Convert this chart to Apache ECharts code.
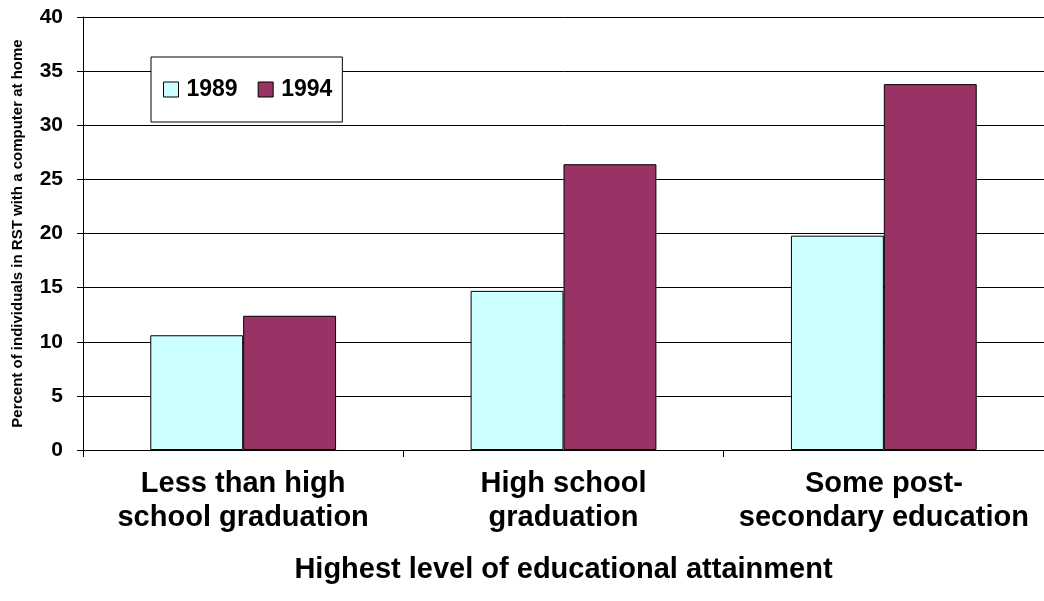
<!DOCTYPE html>
<html>
<head>
<meta charset="utf-8">
<script src="https://cdn.jsdelivr.net/npm/echarts@6/dist/echarts.min.js"></script>
<style>
html,body{margin:0;padding:0;background:#fff;}
#chart{width:1044px;height:601px;}
</style>
</head>
<body>
<div id="chart"></div>
<script>
const categories = ['Less than high\nschool graduation', 'High school\ngraduation', 'Some post-\nsecondary education'];
const series1989 = [10.6, 14.7, 19.8];
const series1994 = [12.4, 26.4, 33.8];
const seriesNames = ['1989', '1994'];
const yTicks = [0, 5, 10, 15, 20, 25, 30, 35, 40];

const FONT = 'Liberation Sans, Arial, sans-serif';
const chart = echarts.init(document.getElementById('chart'));
chart.setOption({
  animation: false,
  backgroundColor: '#fff',
  grid: { left: 83, right: 0, top: 17, bottom: 151, containLabel: false },
  legend: {
    left: 151, top: 57,
    orient: 'horizontal',
    padding: [21, 10, 21, 12],
    itemGap: 20,
    itemWidth: 15, itemHeight: 15,
    backgroundColor: '#fff',
    borderColor: '#000', borderWidth: 1,
    textStyle: { fontFamily: FONT, fontWeight: 'bold', fontSize: 23, color: '#000', padding: [0, 0, 0, 3] },
    data: [
      { name: seriesNames[0], icon: 'rect', itemStyle: { color: '#CCFFFF', borderColor: '#000', borderWidth: 1 } },
      { name: seriesNames[1], icon: 'rect', itemStyle: { color: '#993366', borderColor: '#000', borderWidth: 1 } }
    ],
    z: 10
  },
  xAxis: {
    type: 'category',
    data: categories,
    name: 'Highest level of educational attainment',
    nameLocation: 'middle',
    nameGap: 105,
    nameTextStyle: { fontFamily: FONT, fontWeight: 'bold', fontSize: 29, color: '#000' },
    axisLine: { lineStyle: { color: '#000', width: 1 } },
    axisTick: { show: true, alignWithLabel: false, length: 7, lineStyle: { color: '#000' } },
    axisLabel: { fontFamily: FONT, fontWeight: 'bold', fontSize: 29, color: '#000', lineHeight: 34, margin: 17, interval: 0 },
    splitLine: { show: false }
  },
  yAxis: {
    type: 'value',
    min: 0, max: 40, interval: 5,
    name: 'Percent of individuals in RST with a computer at home',
    nameLocation: 'middle',
    nameGap: 58,
    nameTextStyle: { fontFamily: FONT, fontWeight: 'bold', fontSize: 15, color: '#000' },
    axisLine: { show: true, lineStyle: { color: '#000', width: 1 } },
    axisTick: { show: true, inside: false, length: 6, lineStyle: { color: '#000' } },
    axisLabel: {
      fontFamily: FONT, fontWeight: 'bold', fontSize: 21, color: '#000', margin: 20,
      formatter: v => (yTicks.indexOf(v) >= 0 ? String(v) : '')
    },
    splitLine: { show: true, lineStyle: { color: '#000', width: 1 } }
  },
  series: [
    {
      name: seriesNames[0], type: 'bar', data: series1989,
      barGap: '0%', barCategoryGap: '42%',
      itemStyle: { color: '#CCFFFF', borderColor: '#000', borderWidth: 1 }
    },
    {
      name: seriesNames[1], type: 'bar', data: series1994,
      barGap: '0%', barCategoryGap: '42%',
      itemStyle: { color: '#993366', borderColor: '#000', borderWidth: 1 }
    }
  ]
});
</script>
</body>
</html>
